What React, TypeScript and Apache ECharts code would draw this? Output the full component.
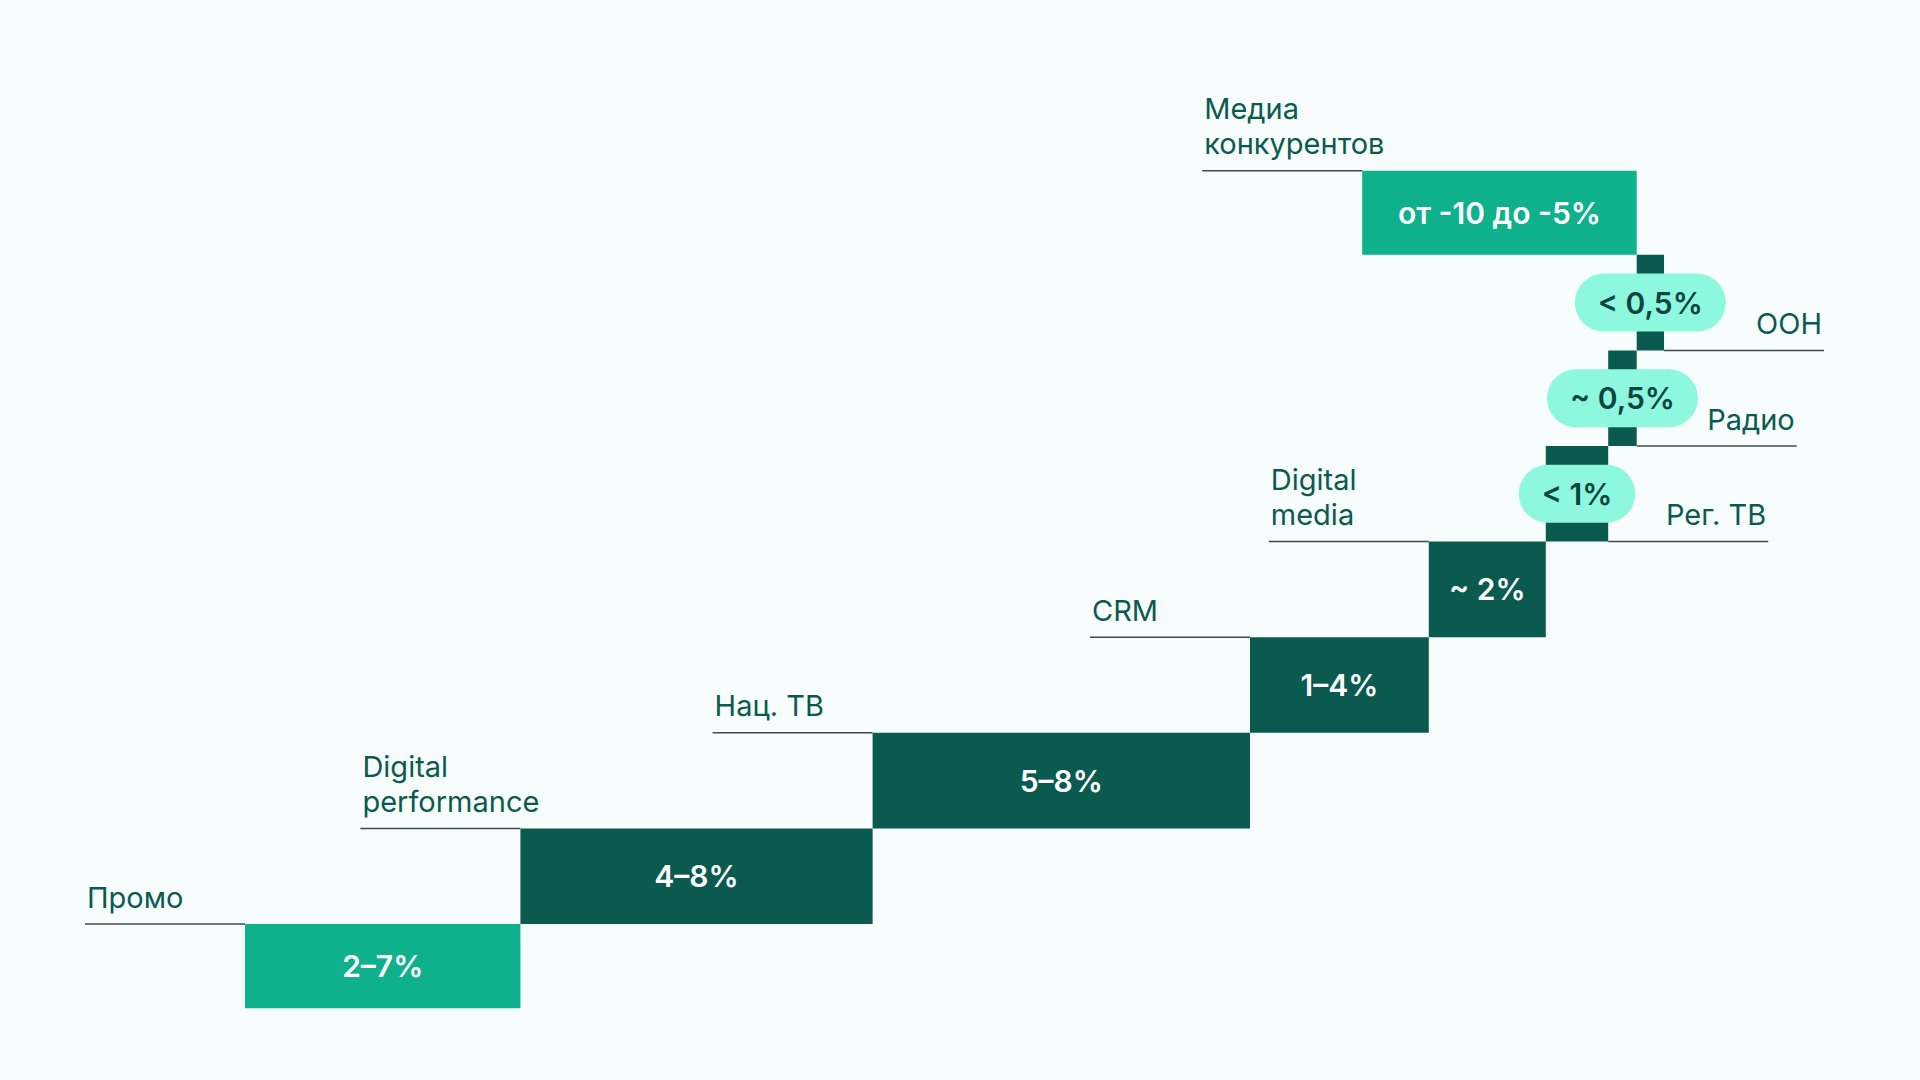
import React, { useEffect, useRef } from "react";
import * as echarts from "echarts";

// ---- data ----
const categories = [
  "Промо",
  "Digital\nperformance",
  "Нац. ТВ",
  "CRM",
  "Digital\nmedia",
  "Рег. ТВ",
  "Радио",
  "ООН",
  "Медиа\nконкурентов",
];
const rangeLabels = [
  "2–7%",
  "4–8%",
  "5–8%",
  "1–4%",
  "~ 2%",
  "< 1%",
  "~ 0,5%",
  "< 0,5%",
  "от -10 до -5%",
];
// horizontal extent of each step (waterfall units)
const barStart = [0, 4.59, 10.46, 16.75, 19.73, 21.68, 22.72, 23.195, 23.195];
const barEnd = [4.59, 10.46, 16.75, 19.73, 21.68, 22.72, 23.195, 23.65, 18.62];
// vertical level of each step
const levelBottom = [-0.88, 0, 1, 2, 3, 4, 5, 6, 7];
const levelTop = [0, 1, 2, 3, 4, 5, 6, 7, 7.88];
const kinds = ["light", "dark", "dark", "dark", "dark", "pill", "pill", "pill", "light"];
const labelSide = ["left", "left", "left", "left", "left", "right", "right", "right", "left"];

// ---- styles ----
const BG = "#f7fdfc";
const LIGHT = "#0fb08c";
const DARK = "#0a5a50";
const MINT = "#8ef8df";
const TEXT = "#0b5a4e";
const PILL_TEXT = "#0a463f";
const LINE = "#3f4b48";
const FONT = "Inter, 'Noto Sans', sans-serif";
const LINE_LEN = 160;

export default function App() {
  const ref = useRef<HTMLDivElement>(null);

  useEffect(() => {
    document.body.style.margin = "0";
    document.body.style.background = BG;
    if (!ref.current) return;
    const chart = echarts.init(ref.current, null, { renderer: "svg" });

    const data = categories.map((_, i) => [barStart[i], barEnd[i], levelBottom[i], levelTop[i], i]);

    const labelStyle = (text: string, align: string) => ({
      text,
      fill: TEXT,
      font: `400 29px ${FONT}`,
      lineHeight: 35,
      align,
      verticalAlign: "bottom",
    });

    const renderItem = (params: any, api: any) => {
      const i = api.value(4);
      const x0 = api.value(0);
      const x1 = api.value(1);
      const yb = api.value(2);
      const yt = api.value(3);
      const pA = api.coord([Math.min(x0, x1), yt]);
      const pB = api.coord([Math.max(x0, x1), yb]);
      const left = pA[0];
      const top = pA[1];
      const right = pB[0];
      const bottom = pB[1];
      const kind = kinds[i];
      const children: any[] = [];

      children.push({
        type: "rect",
        shape: { x: left, y: top, width: right - left, height: bottom - top },
        style: { fill: kind === "light" ? LIGHT : DARK },
      });

      // guide line + category label
      if (labelSide[i] === "left") {
        children.push({
          type: "line",
          shape: { x1: left - LINE_LEN, y1: top, x2: left, y2: top },
          style: { stroke: LINE, lineWidth: 1.5 },
        });
        children.push({
          type: "text",
          x: left - LINE_LEN + 2,
          y: top - 9.5,
          style: labelStyle(categories[i], "left"),
        });
      } else {
        children.push({
          type: "line",
          shape: { x1: right, y1: bottom, x2: right + LINE_LEN, y2: bottom },
          style: { stroke: LINE, lineWidth: 1.5 },
        });
        children.push({
          type: "text",
          x: right + LINE_LEN - 2,
          y: bottom - 9.5,
          style: labelStyle(categories[i], "right"),
        });
      }

      const cx = (left + right) / 2;
      const cy = (top + bottom) / 2;
      if (kind === "pill") {
        children.push({
          type: "text",
          x: cx,
          y: cy,
          z2: 10,
          style: {
            text: rangeLabels[i],
            fill: PILL_TEXT,
            font: `600 30px ${FONT}`,
            lineHeight: 34,
            align: "center",
            verticalAlign: "middle",
            backgroundColor: MINT,
            padding: [12, 23],
            borderRadius: 29,
          },
        });
      } else {
        children.push({
          type: "text",
          x: cx,
          y: cy,
          style: {
            text: rangeLabels[i],
            fill: "#ffffff",
            font: `600 30px ${FONT}`,
            align: "center",
            verticalAlign: "middle",
          },
        });
      }
      return { type: "group", children };
    };

    chart.setOption({
      animation: false,
      backgroundColor: BG,
      grid: { left: 245, top: 159.2, width: 1500, height: 860.4 },
      xAxis: { type: "value", min: 0, max: 25, show: false },
      yAxis: { type: "value", min: -1, max: 8, show: false },
      series: [
        {
          type: "custom",
          clip: false,
          renderItem,
          data,
        },
      ],
    });

    return () => chart.dispose();
  }, []);

  return <div ref={ref} style={{ width: 1920, height: 1080 }} />;
}
